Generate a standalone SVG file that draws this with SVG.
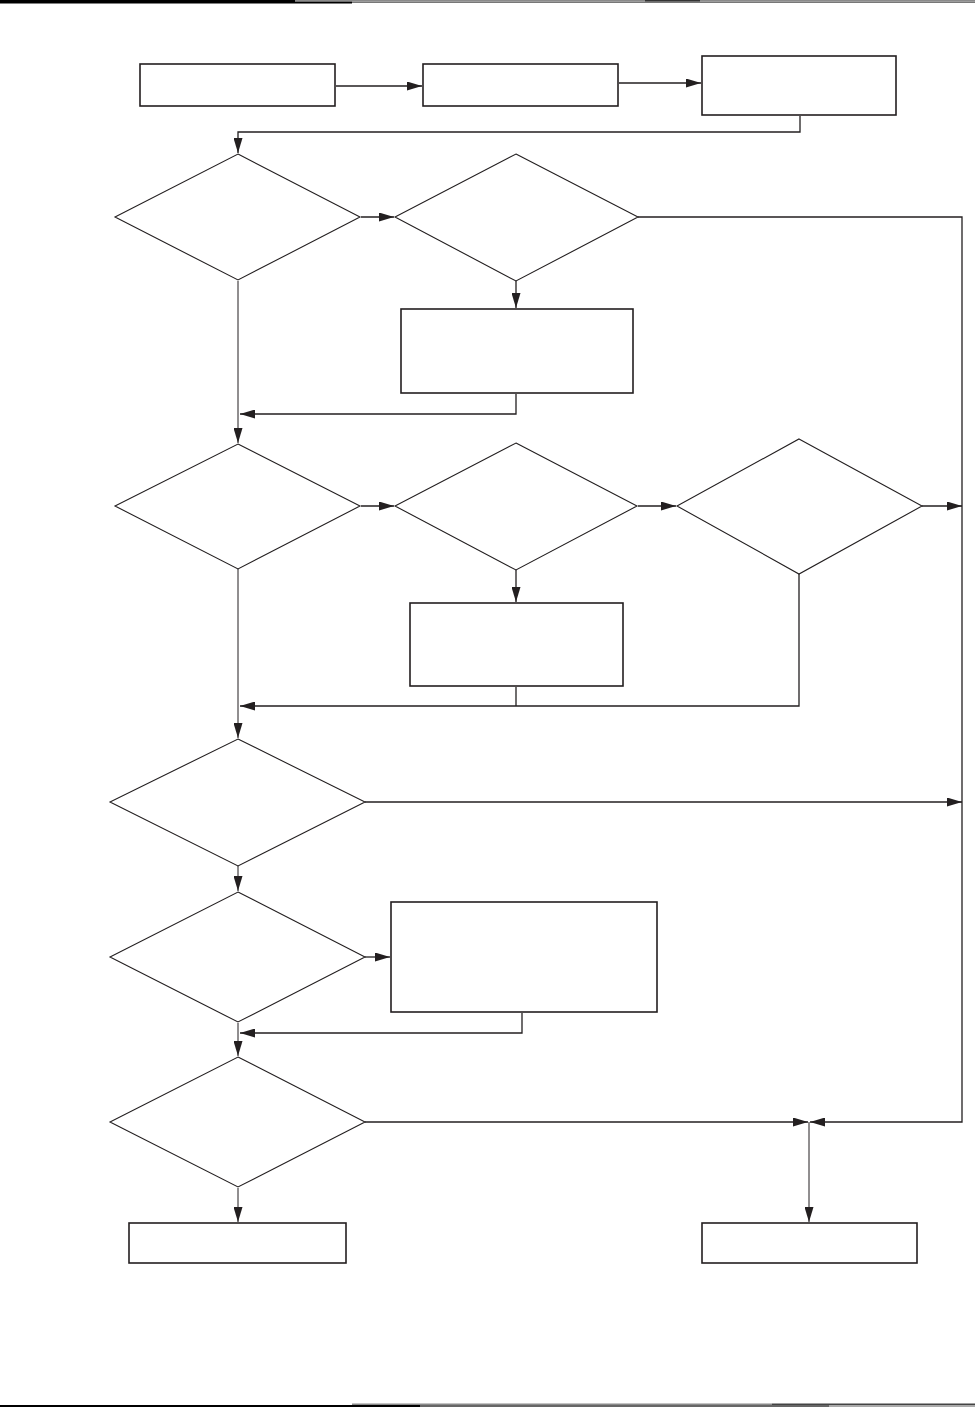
<svg xmlns="http://www.w3.org/2000/svg" width="975" height="1407" viewBox="0 0 975 1407">
<style>
.box{fill:#fff;stroke:#231f20;stroke-width:1.6}
.dia{fill:#fff;stroke:#231f20;stroke-width:1.1}
.c{fill:none;stroke:#231f20;stroke-width:1.3}
.ct{fill:none;stroke:#231f20;stroke-width:1}
</style>
<defs>
<marker id="a" viewBox="0 0 15 9" refX="15" refY="4.5" markerWidth="15" markerHeight="9" markerUnits="userSpaceOnUse" orient="auto">
<path d="M0,0 L15,4.5 L0,9 Z" fill="#231f20"/>
</marker>
</defs>
<rect width="975" height="1407" fill="#fff"/>
<g id="rules">
<rect x="0" y="0" width="295" height="3.5" fill="#000"/>
<rect x="295" y="0" width="680" height="1.6" fill="#8a8a8a"/>
<rect x="645" y="0" width="55" height="1.6" fill="#333"/>
<rect x="295" y="1.6" width="57" height="1.9" fill="#000"/>
<rect x="352" y="1.6" width="623" height="1.4" fill="#777"/>
<rect x="352" y="1403.5" width="420" height="1.5" fill="#8a8a8a"/>
<rect x="772" y="1403.5" width="203" height="1.5" fill="#444"/>
<rect x="0" y="1405" width="420" height="2" fill="#000"/>
<rect x="420" y="1405" width="409" height="2" fill="#666"/>
<rect x="829" y="1405" width="146" height="2" fill="#aaa"/>
</g>
<g id="connectors">
<line class="c" x1="336" y1="86" x2="422" y2="86" marker-end="url(#a)"/>
<line class="c" x1="619" y1="83" x2="701" y2="83" marker-end="url(#a)"/>
<polyline class="c" points="800,116 800,132 238,132 238,153" marker-end="url(#a)"/>
<line class="c" x1="361" y1="217" x2="394" y2="217" marker-end="url(#a)"/>
<line class="c" x1="516" y1="281" x2="516" y2="308" marker-end="url(#a)"/>
<polyline class="c" points="516,394 516,414 240,414" marker-end="url(#a)"/>
<line class="ct" x1="238" y1="281" x2="238" y2="443" marker-end="url(#a)"/>
<polyline class="c" points="638,217 962,217 962,1122 810,1122" marker-end="url(#a)"/>
<line class="c" x1="361" y1="506" x2="394" y2="506" marker-end="url(#a)"/>
<line class="c" x1="638" y1="506" x2="676" y2="506" marker-end="url(#a)"/>
<line class="c" x1="922" y1="506" x2="962" y2="506" marker-end="url(#a)"/>
<line class="c" x1="516" y1="570" x2="516" y2="602" marker-end="url(#a)"/>
<polyline class="c" points="516,687 516,706"/>
<polyline class="c" points="799,574 799,706 240,706" marker-end="url(#a)"/>
<line class="ct" x1="238" y1="569" x2="238" y2="738" marker-end="url(#a)"/>
<line class="c" x1="365" y1="802" x2="962" y2="802" marker-end="url(#a)"/>
<line class="ct" x1="238" y1="866" x2="238" y2="891" marker-end="url(#a)"/>
<line class="c" x1="365" y1="957" x2="390" y2="957" marker-end="url(#a)"/>
<polyline class="c" points="522,1013 522,1033 240,1033" marker-end="url(#a)"/>
<line class="ct" x1="238" y1="1023" x2="238" y2="1056" marker-end="url(#a)"/>
<line class="c" x1="365" y1="1122" x2="808" y2="1122" marker-end="url(#a)"/>
<line class="ct" x1="809" y1="1122" x2="809" y2="1222" marker-end="url(#a)"/>
<line class="ct" x1="238" y1="1188" x2="238" y2="1222" marker-end="url(#a)"/>
</g>
<g id="n1"><rect class="box" x="140" y="64" width="195" height="42"/></g>
<g id="n2"><rect class="box" x="423" y="64" width="195" height="42"/></g>
<g id="n3"><rect class="box" x="702" y="56" width="194" height="59"/></g>
<g id="d1"><polygon class="dia" points="238,154 360,217 238,280 115,217"/></g>
<g id="d2"><polygon class="dia" points="516,154 638,217 516,281 395,217"/></g>
<g id="n4"><rect class="box" x="401" y="309" width="232" height="84"/></g>
<g id="d3"><polygon class="dia" points="238,444 360,506 238,569 115,506"/></g>
<g id="d4"><polygon class="dia" points="516,443 637,506 516,570 395,506"/></g>
<g id="d5"><polygon class="dia" points="799,439 922,506 799,574 677,506"/></g>
<g id="n5"><rect class="box" x="410" y="603" width="213" height="83"/></g>
<g id="d6"><polygon class="dia" points="238,739 365,802 238,866 110,802"/></g>
<g id="d7"><polygon class="dia" points="238,892 365,957 238,1022 110,957"/></g>
<g id="n6"><rect class="box" x="391" y="902" width="266" height="110"/></g>
<g id="d8"><polygon class="dia" points="238,1057 365,1122 238,1187 110,1122"/></g>
<g id="n7"><rect class="box" x="129" y="1223" width="217" height="40"/></g>
<g id="n8"><rect class="box" x="702" y="1223" width="215" height="40"/></g>
</svg>
